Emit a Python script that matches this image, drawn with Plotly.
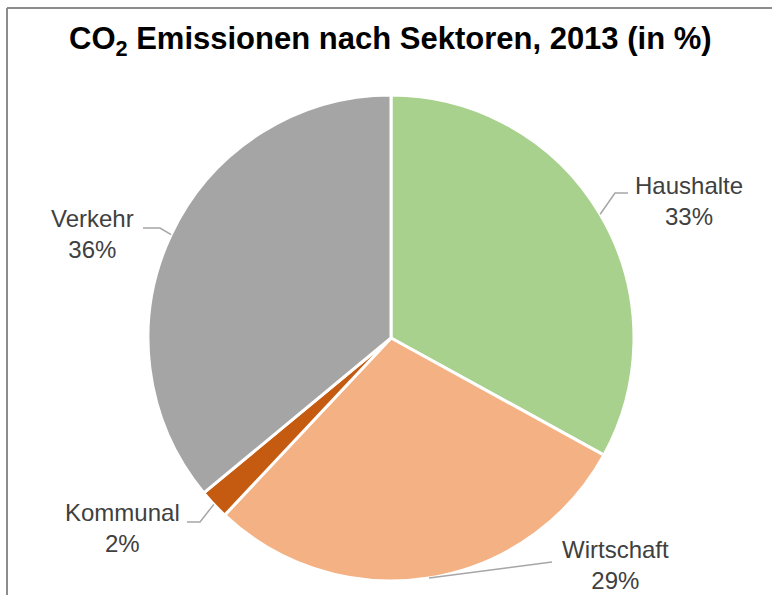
import math
import plotly.graph_objects as go

# ---- data ----
sectors = ["Haushalte", "Wirtschaft", "Kommunal", "Verkehr"]
shares = [33, 29, 2, 36]
colors = ["#a9d18e", "#f4b183", "#c55a11", "#a5a5a5"]
title_text = "CO<sub>2</sub> Emissionen nach Sektoren, 2013 (in %)"

# ---- layout geometry (pixels) ----
W, H = 772, 595
CX, CY, R = 391, 338, 243

# label placement (pixel positions for elbow / line end / text centre)
label_layout = {
    "Haushalte": dict(elbow=(615, 193), end=(628, 193), text=(689, 201)),
    "Wirtschaft": dict(elbow=(552, 562), end=(552, 562), text=(615, 565)),
    "Kommunal": dict(elbow=(200, 522), end=(187, 522), text=(122, 528)),
    "Verkehr": dict(elbow=(160, 228), end=(143, 228), text=(92, 234)),
}


def fx(px):
    return px / W


def fy(py):
    return 1 - py / H


fig = go.Figure(
    go.Pie(
        labels=sectors,
        values=shares,
        sort=False,
        direction="clockwise",
        rotation=0,
        textinfo="none",
        hoverinfo="label+percent",
        marker=dict(colors=colors, line=dict(color="white", width=3)),
        domain=dict(x=[fx(CX - R), fx(CX + R)], y=[fy(CY + R), fy(CY - R)]),
        showlegend=False,
    )
)

shapes = []
annotations = []
total = sum(shares)
cum = 0
for name, v in zip(sectors, shares):
    mid = (cum + v / 2) / total * 2 * math.pi
    cum += v
    ex = CX + R * math.sin(mid)
    ey = CY - R * math.cos(mid)
    L = label_layout[name]
    (bx, by), (tx, ty), (qx, qy) = L["elbow"], L["end"], L["text"]
    shapes.append(dict(
        type="path", xref="paper", yref="paper",
        path=f"M {fx(ex)} {fy(ey)} L {fx(bx)} {fy(by)} L {fx(tx)} {fy(ty)}",
        line=dict(color="#a6a6a6", width=1.5),
    ))
    annotations.append(dict(
        x=fx(qx), y=fy(qy), xref="paper", yref="paper",
        text=f"{name}<br>{v}%", showarrow=False, align="center",
        xanchor="center", yanchor="middle",
        font=dict(family="Liberation Sans, Arial, sans-serif", size=24, color="#404040"),
    ))

# chart frame (top and left edges visible)
shapes.append(dict(type="line", xref="paper", yref="paper",
                   x0=fx(7), x1=1.01, y0=fy(8), y1=fy(8),
                   line=dict(color="#8c8c8c", width=2)))
shapes.append(dict(type="line", xref="paper", yref="paper",
                   x0=fx(7), x1=fx(7), y0=fy(8), y1=-0.01,
                   line=dict(color="#8c8c8c", width=2)))

annotations.append(dict(
    x=fx(390), y=fy(41), xref="paper", yref="paper",
    text=f"<b>{title_text}</b>", showarrow=False,
    xanchor="center", yanchor="middle",
    font=dict(family="Liberation Sans, Arial, sans-serif", size=31, color="#000000"),
))

fig.update_layout(
    width=W, height=H,
    margin=dict(l=0, r=0, t=0, b=0),
    paper_bgcolor="white", plot_bgcolor="white",
    shapes=shapes, annotations=annotations,
)

fig.write_html(
    "out.html",
    config={"displayModeBar": False},
    post_script="document.body.style.margin='0';document.body.style.overflow='hidden';",
)
